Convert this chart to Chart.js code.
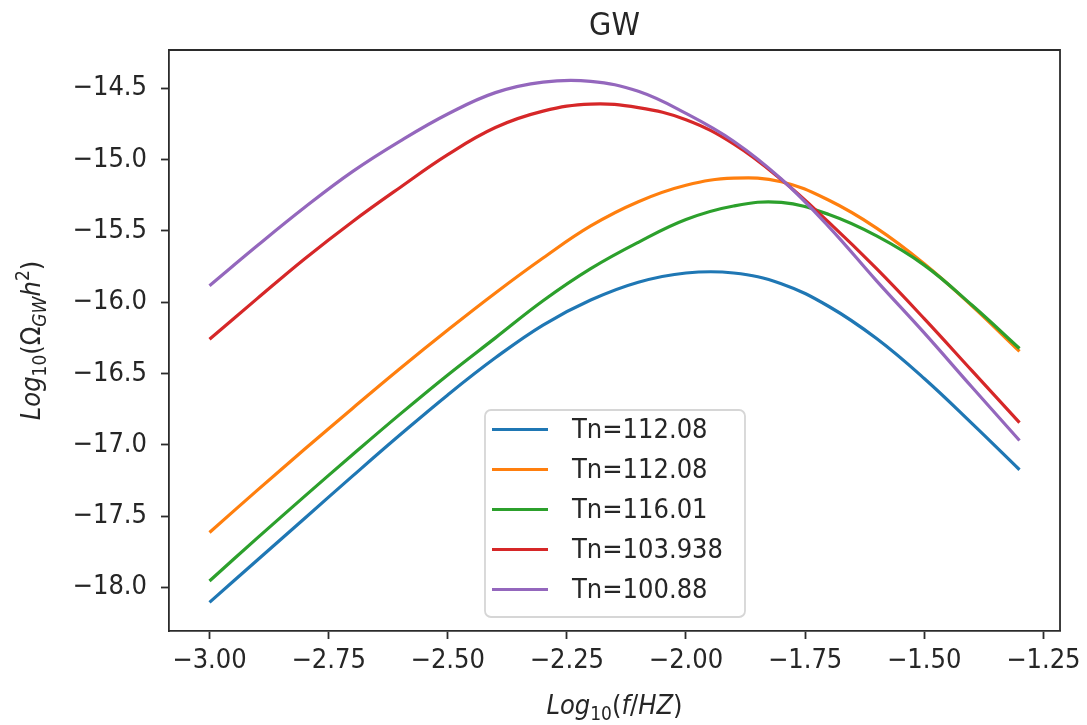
<!DOCTYPE html>
<html>
<head>
<meta charset="utf-8">
<script src="https://cdn.jsdelivr.net/npm/chart.js@4"></script>
<style>
  html, body { margin: 0; padding: 0; background: #fff; }
  #wrap { width: 1087px; height: 725px; }
</style>
</head>
<body>
<div id="wrap"><canvas id="gwChart" width="1087" height="725"></canvas></div>
<script>
// log10(f/Hz) sample positions, shared by all curves
const logFreq = [-3.0, -2.9, -2.8, -2.7, -2.6, -2.5, -2.4, -2.3, -2.2, -2.1, -2.0, -1.9, -1.8, -1.7, -1.6, -1.5, -1.4, -1.3];

const tnLabels = ["Tn=112.08", "Tn=112.08", "Tn=116.01", "Tn=103.938", "Tn=100.88"];

// log10(Omega_GW h^2)
const omegaBlue   = [-18.105, -17.81, -17.515, -17.22, -16.93, -16.65, -16.39, -16.16, -15.985, -15.86, -15.795, -15.795, -15.87, -16.03, -16.255, -16.535, -16.85, -17.175];
const omegaOrange = [-17.615, -17.32, -17.03, -16.745, -16.465, -16.195, -15.935, -15.69, -15.465, -15.295, -15.18, -15.13, -15.155, -15.285, -15.48, -15.73, -16.025, -16.345];
const omegaGreen  = [-17.955, -17.655, -17.36, -17.07, -16.785, -16.51, -16.25, -15.99, -15.765, -15.58, -15.42, -15.325, -15.30, -15.385, -15.535, -15.74, -16.02, -16.325];
const omegaRed    = [-16.26, -15.975, -15.695, -15.435, -15.195, -14.965, -14.775, -14.66, -14.61, -14.635, -14.72, -14.89, -15.14, -15.44, -15.765, -16.115, -16.48, -16.845];
const omegaPurple = [-15.884, -15.604, -15.334, -15.084, -14.87, -14.68, -14.53, -14.456, -14.451, -14.521, -14.676, -14.871, -15.136, -15.471, -15.85, -16.215, -16.595, -16.97];

const xTicks = [-3.0, -2.75, -2.5, -2.25, -2.0, -1.75, -1.5, -1.25];
const yTicks = [-18.0, -17.5, -17.0, -16.5, -16.0, -15.5, -15.0, -14.5];

const seriesValues = [omegaBlue, omegaOrange, omegaGreen, omegaRed, omegaPurple];
const seriesColors = ["#1f77b4", "#ff7f0e", "#2ca02c", "#d62728", "#9467bd"];

const FONT = '"DejaVu Sans Condensed", "DejaVu Sans", sans-serif';
const TEXT = "#262626";
const SPINE = "#2b2b2b";

function minusFmt(v, digits) {
  return (v < 0 ? "\u2212" : "") + Math.abs(v).toFixed(digits);
}

// draws a small mathtext-like label made of parts (italic / sub / sup)
function drawMath(ctx, parts, cx, baseline, size) {
  const items = parts.map((p) => {
    const s = p.sub || p.sup ? Math.round(size * 0.7) : size;
    const font = (p.it ? "italic " : "") + s + "px " + FONT;
    ctx.font = font;
    return { p, font, w: ctx.measureText(p.t).width };
  });
  const total = items.reduce((a, b) => a + b.w, 0);
  let x = cx - total / 2;
  ctx.textAlign = "left";
  ctx.textBaseline = "alphabetic";
  items.forEach(({ p, font, w }) => {
    ctx.font = font;
    const dy = p.sub ? size * 0.22 : p.sup ? -size * 0.42 : 0;
    ctx.fillText(p.t, x, baseline + dy);
    x += w;
  });
}

const xLabelParts = [
  { t: "Log", it: true }, { t: "10", sub: true }, { t: "(" }, { t: "f", it: true },
  { t: "/" }, { t: "HZ", it: true }, { t: ")" }
];
const yLabelParts = [
  { t: "Log", it: true }, { t: "10", sub: true }, { t: "(\u03A9" }, { t: "GW", it: true, sub: true },
  { t: "h", it: true }, { t: "2", sup: true }, { t: ")" }
];

const decorPlugin = {
  id: "decor",
  afterDatasetsDraw(chart) {
    const ctx = chart.ctx;
    const a = chart.chartArea;
    ctx.save();
    // top and right spines
    ctx.strokeStyle = SPINE;
    ctx.lineWidth = 1.8;
    ctx.beginPath();
    ctx.moveTo(a.left, a.top);
    ctx.lineTo(a.right, a.top);
    ctx.lineTo(a.right, a.bottom);
    ctx.stroke();

    // legend box
    const bx = 485, by = 410, bw = 260, bh = 207, r = 6;
    ctx.beginPath();
    ctx.roundRect(bx, by, bw, bh, r);
    ctx.fillStyle = "rgba(255,255,255,0.8)";
    ctx.fill();
    ctx.strokeStyle = "#d6d6d6";
    ctx.lineWidth = 1.8;
    ctx.stroke();
    ctx.font = "27px " + FONT;
    ctx.textAlign = "left";
    ctx.textBaseline = "middle";
    tnLabels.forEach((lab, i) => {
      const yy = 429.5 + i * 40;
      ctx.strokeStyle = seriesColors[i];
      ctx.lineWidth = 3.2;
      ctx.beginPath();
      ctx.moveTo(492, yy);
      ctx.lineTo(548, yy);
      ctx.stroke();
      ctx.fillStyle = TEXT;
      ctx.fillText(lab, 572, yy + 1);
    });
    ctx.restore();
  },
  afterDraw(chart) {
    const ctx = chart.ctx;
    const a = chart.chartArea;
    const cx = (a.left + a.right) / 2;
    ctx.save();
    ctx.fillStyle = TEXT;
    ctx.font = "32px " + FONT;
    ctx.textAlign = "center";
    ctx.textBaseline = "alphabetic";
    ctx.fillText("GW", cx, 35);

    drawMath(ctx, xLabelParts, cx, 714, 27);

    ctx.translate(40, (a.top + a.bottom) / 2);
    ctx.rotate(-Math.PI / 2);
    drawMath(ctx, yLabelParts, 0, 0, 27);
    ctx.restore();
  }
};

const datasets = seriesValues.map((vals, i) => ({
  label: tnLabels[i],
  data: logFreq.map((x, j) => ({ x, y: vals[j] })),
  borderColor: seriesColors[i],
  backgroundColor: seriesColors[i],
  borderWidth: 3.2,
  pointRadius: 0,
  tension: 0.4,
  fill: false,
  order: seriesValues.length - 1 - i
}));

new Chart(document.getElementById("gwChart"), {
  type: "line",
  data: { datasets },
  plugins: [decorPlugin],
  options: {
    responsive: false,
    animation: false,
    layout: { padding: { left: 0, top: 50, right: 24, bottom: 0 } },
    plugins: {
      legend: { display: false },
      title: { display: false },
      tooltip: { enabled: false }
    },
    scales: {
      x: {
        type: "linear",
        min: -3.085,
        max: -1.215,
        afterBuildTicks: (s) => { s.ticks = xTicks.map((v) => ({ value: v })); },
        afterFit: (s) => { s.height = 94; },
        grid: { display: true, drawOnChartArea: false, drawTicks: true, tickLength: 8, tickWidth: 1.8, color: SPINE },
        border: { display: true, color: SPINE, width: 1.8 },
        ticks: {
          color: TEXT,
          padding: 6,
          maxRotation: 0,
          font: { family: FONT, size: 27 },
          callback: (v) => minusFmt(v, 2)
        }
      },
      y: {
        type: "linear",
        min: -18.306,
        max: -14.231,
        afterBuildTicks: (s) => { s.ticks = yTicks.map((v) => ({ value: v })); },
        afterFit: (s) => { s.width = 169; },
        grid: { display: true, drawOnChartArea: false, drawTicks: true, tickLength: 8, tickWidth: 1.8, color: SPINE },
        border: { display: true, color: SPINE, width: 1.8 },
        ticks: {
          color: TEXT,
          padding: 14,
          font: { family: FONT, size: 27 },
          callback: (v) => minusFmt(v, 1)
        }
      }
    }
  }
});
</script>
</body>
</html>
